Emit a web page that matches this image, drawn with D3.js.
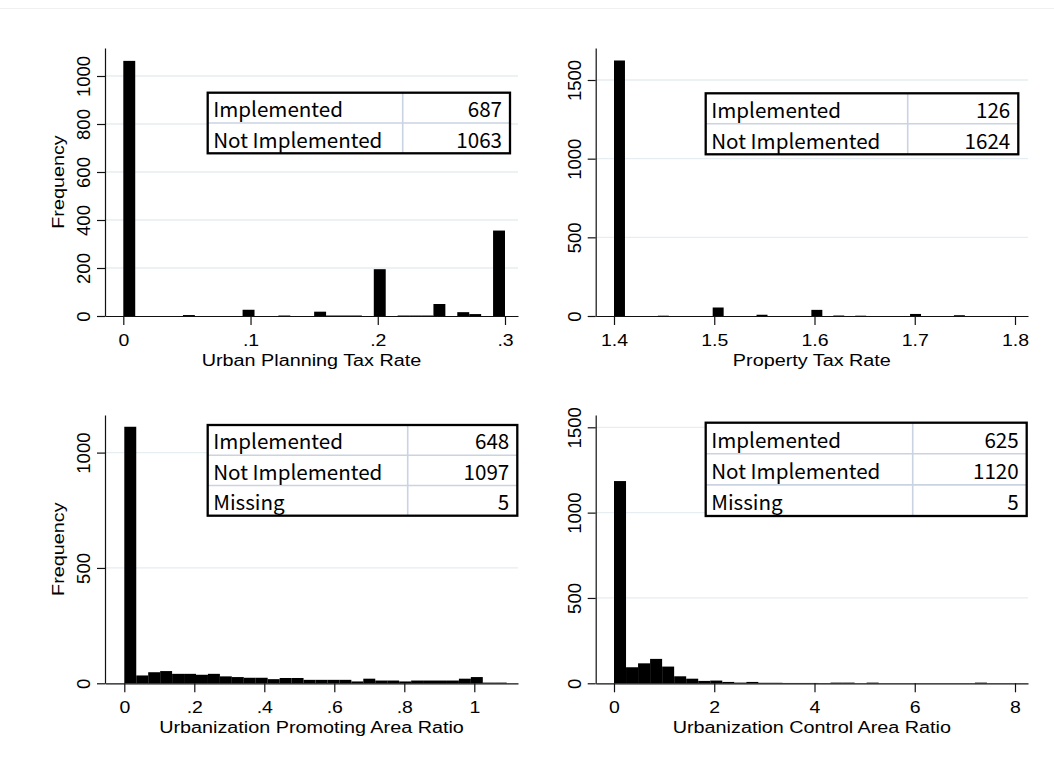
<!DOCTYPE html>
<html>
<head>
<meta charset="utf-8">
<script src="https://cdn.jsdelivr.net/npm/d3@7/dist/d3.min.js"></script>
<style>
body { margin: 0; background: #fff; }
svg { display: block; }
</style>
</head>
<body>
<svg width="1054" height="769"></svg>
<script>
// 32 equal bins per histogram, between the min and max of each variable
var binCount = 32;

var planningRange = [0, 0.3];
var planningFreq = [1063,0,0,0,0,4,0,0,0,0,26,0,0,2,0,0,18,2,2,2,0,195,0,2,2,2,50,0,16,8,0,356];
var planningXTicks = [0, 0.1, 0.2, 0.3];
var planningXLabels = ["0", ".1", ".2", ".3"];
var planningYTicks = [0, 200, 400, 600, 800, 1000];
var planningTable = [["Implemented", 687], ["Not Implemented", 1063]];

var propertyRange = [1.4, 1.75];
var propertyFreq = [1624,0,0,0,2,0,0,0,0,54,0,0,0,8,0,0,0,0,39,0,3,0,2,0,0,0,0,13,0,0,0,5];
var propertyXTicks = [1.4, 1.5, 1.6, 1.7, 1.8];
var propertyXLabels = ["1.4", "1.5", "1.6", "1.7", "1.8"];
var propertyYTicks = [0, 500, 1000, 1500];
var propertyTable = [["Implemented", 126], ["Not Implemented", 1624]];

var promotingRange = [0, 1.0926];
var promotingFreq = [1112,34,48,53,41,41,37,41,30,27,24,24,18,23,23,15,15,15,15,8,20,12,12,8,12,12,12,12,20,27,3,3];
var promotingXTicks = [0, 0.2, 0.4, 0.6, 0.8, 1];
var promotingXLabels = ["0", ".2", ".4", ".6", ".8", "1"];
var promotingYTicks = [0, 500, 1000];
var promotingTable = [["Implemented", 648], ["Not Implemented", 1097], ["Missing", 5]];

var controlRange = [0, 7.68];
var controlFreq = [1185,94,117,143,98,41,27,14,16,8,4,8,3,3,2,2,2,1,4,4,0,4,0,0,0,0,0,0,0,0,4,0];
var controlXTicks = [0, 2, 4, 6, 8];
var controlXLabels = ["0", "2", "4", "6", "8"];
var controlYTicks = [0, 500, 1000, 1500];
var controlTable = [["Implemented", 625], ["Not Implemented", 1120], ["Missing", 5]];

var svg = d3.select("svg");
var gridColor = "#e6eef1";
var sansFont = "'Liberation Sans', Arial, sans-serif";
var tableFont = "'Noto Sans CJK JP', sans-serif";

// faint frame line at the top of the exported graph
svg.append("line")
    .attr("x1", 0).attr("x2", 1054)
    .attr("y1", 8.5).attr("y2", 8.5)
    .attr("stroke", "#f0f0f0");

function histPanel(cfg) {
    var g = svg.append("g");

    // x: place first/last tick at their pixel spots, then stretch to plot edges
    var x = d3.scaleLinear().domain([cfg.xTicks[0], cfg.xTicks[cfg.xTicks.length - 1]]).range(cfg.xPix);
    x.domain([x.invert(cfg.left), x.invert(cfg.right)]).range([cfg.left, cfg.right]);

    var y = d3.scaleLinear().domain([0, cfg.yRef]).range([cfg.bottom, cfg.yRefPix]);
    y.domain([0, y.invert(cfg.top)]).range([cfg.bottom, cfg.top]);

    g.selectAll(".grid")
        .data(cfg.yTicks.filter(function(d) { return d > 0; }))
      .enter().append("line")
        .attr("x1", cfg.left).attr("x2", cfg.right)
        .attr("y1", function(d) { return y(d); })
        .attr("y2", function(d) { return y(d); })
        .attr("stroke", gridColor)
        .attr("stroke-width", 1.3);

    var w = (cfg.range[1] - cfg.range[0]) / binCount;
    g.selectAll(".bar")
        .data(cfg.freq)
      .enter().append("rect")
        .attr("x", function(d, i) { return x(cfg.range[0] + i * w); })
        .attr("width", function(d, i) { return x(cfg.range[0] + (i + 1) * w) - x(cfg.range[0] + i * w); })
        .attr("y", function(d) { return y(d); })
        .attr("height", function(d) { return cfg.bottom - y(d); })
        .attr("fill", "#000");

    var xAxis = d3.axisBottom(x)
        .tickValues(cfg.xTicks)
        .tickFormat(function(d, i) { return cfg.xLabels[i]; })
        .tickSizeInner(9)
        .tickSizeOuter(0);

    var gx = g.append("g")
        .attr("transform", "translate(0," + cfg.bottom + ")")
        .call(xAxis);
    gx.attr("font-family", sansFont).attr("font-size", 19.5);
    gx.selectAll("path, line").attr("stroke", "#111").attr("stroke-width", 1.2);
    gx.selectAll("text")
        .attr("y", 0).attr("dy", null)
        .attr("transform", "translate(0,30) scale(1,0.85)");

    var yAxis = d3.axisLeft(y)
        .tickValues(cfg.yTicks)
        .tickFormat(d3.format("d"))
        .tickSizeInner(8)
        .tickSizeOuter(0);

    var gy = g.append("g")
        .attr("transform", "translate(" + cfg.left + ",0)")
        .call(yAxis);
    gy.attr("font-family", sansFont).attr("font-size", 18.5);
    gy.selectAll("path, line").attr("stroke", "#111").attr("stroke-width", 1.2);
    gy.selectAll("text")
        .attr("x", null).attr("dy", null)
        .attr("text-anchor", "middle")
        .attr("transform", "translate(-15,0) rotate(-90)");

    g.append("g")
        .attr("transform", "translate(" + ((cfg.left + cfg.right) / 2) + "," + (cfg.bottom + 50) + ") scale(1,0.87)")
      .append("text")
        .attr("text-anchor", "middle")
        .attr("font-family", sansFont)
        .attr("font-size", 19.8)
        .text(cfg.xTitle);

    if (cfg.yTitle) {
        g.append("g")
            .attr("transform", "translate(" + (cfg.left - 41.5) + "," + ((cfg.top + cfg.bottom) / 2) + ") rotate(-90) scale(1,0.84)")
          .append("text")
            .attr("text-anchor", "middle")
            .attr("font-family", sansFont)
            .attr("font-size", 19.8)
            .text(cfg.yTitle);
    }

    // count table in the top-right corner
    var b = cfg.box;
    var rh = b.h / cfg.table.length;
    var tg = g.append("g");
    tg.append("rect")
        .attr("x", b.x).attr("y", b.y).attr("width", b.w).attr("height", b.h)
        .attr("fill", "#fff");
    tg.selectAll(".rowline")
        .data(cfg.table.slice(1))
      .enter().append("line")
        .attr("x1", b.x).attr("x2", b.x + b.w)
        .attr("y1", function(d, i) { return b.y + rh * (i + 1); })
        .attr("y2", function(d, i) { return b.y + rh * (i + 1); })
        .attr("stroke", "#c9d3e2").attr("stroke-width", 1.6);
    tg.append("line")
        .attr("x1", b.col).attr("x2", b.col)
        .attr("y1", b.y).attr("y2", b.y + b.h)
        .attr("stroke", "#c9d3e2").attr("stroke-width", 1.6);
    tg.selectAll(".lab")
        .data(cfg.table)
      .enter().append("text")
        .attr("x", b.x + 5.5)
        .attr("y", function(d, i) { return b.y + rh * i + rh * 0.81; })
        .attr("font-family", tableFont)
        .attr("font-size", 20.6)
        .text(function(d) { return d[0]; });
    tg.selectAll(".val")
        .data(cfg.table)
      .enter().append("text")
        .attr("x", b.x + b.w - 8)
        .attr("y", function(d, i) { return b.y + rh * i + rh * 0.81; })
        .attr("text-anchor", "end")
        .attr("font-family", tableFont)
        .attr("font-size", 20.6)
        .text(function(d) { return d[1]; });
    tg.append("rect")
        .attr("x", b.x).attr("y", b.y).attr("width", b.w).attr("height", b.h)
        .attr("fill", "none")
        .attr("stroke", "#000").attr("stroke-width", 2.3);
}

histPanel({
    left: 105, right: 518, top: 48, bottom: 316,
    xPix: [123.3, 505], yRef: 1000, yRefPix: 76,
    range: planningRange, freq: planningFreq,
    xTicks: planningXTicks, xLabels: planningXLabels, yTicks: planningYTicks,
    xTitle: "Urban Planning Tax Rate", yTitle: "Frequency",
    table: planningTable,
    box: {x: 207.7, y: 92.7, w: 302.3, h: 60.6, col: 402.7}
});

histPanel({
    left: 595.7, right: 1028, top: 48, bottom: 316,
    xPix: [614, 1015], yRef: 1500, yRefPix: 80,
    range: propertyRange, freq: propertyFreq,
    xTicks: propertyXTicks, xLabels: propertyXLabels, yTicks: propertyYTicks,
    xTitle: "Property Tax Rate", yTitle: null,
    table: propertyTable,
    box: {x: 705.7, y: 93.3, w: 312.6, h: 61, col: 907.7}
});

histPanel({
    left: 105, right: 518, top: 415, bottom: 683.3,
    xPix: [124.3, 474.3], yRef: 1000, yRefPix: 452.6,
    range: promotingRange, freq: promotingFreq,
    xTicks: promotingXTicks, xLabels: promotingXLabels, yTicks: promotingYTicks,
    xTitle: "Urbanization Promoting Area Ratio", yTitle: "Frequency",
    table: promotingTable,
    box: {x: 207.7, y: 425, w: 309.6, h: 90.7, col: 407.7}
});

histPanel({
    left: 595.7, right: 1028, top: 415, bottom: 683.3,
    xPix: [614, 1015], yRef: 1500, yRefPix: 427.3,
    range: controlRange, freq: controlFreq,
    xTicks: controlXTicks, xLabels: controlXLabels, yTicks: controlYTicks,
    xTitle: "Urbanization Control Area Ratio", yTitle: null,
    table: controlTable,
    box: {x: 705.7, y: 422.7, w: 321, h: 93.3, col: 912.7}
});
</script>
</body>
</html>
